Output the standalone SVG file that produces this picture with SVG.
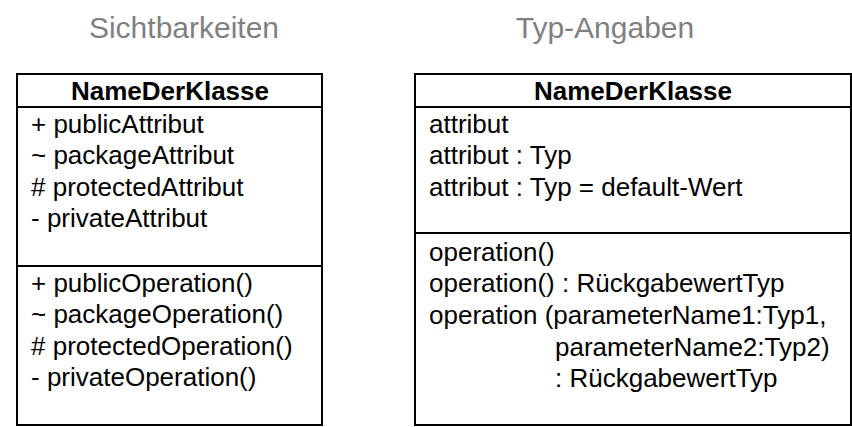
<svg xmlns="http://www.w3.org/2000/svg" width="852" height="427" viewBox="0 0 852 427">
<style>
.box{fill:#fff;stroke:#000;stroke-width:2}
.ln{stroke:#000;stroke-width:2}
.t{font-family:"Liberation Sans",Arial,sans-serif;font-size:26px;fill:#000}
.h{font-family:"Liberation Sans",Arial,sans-serif;font-size:26px;font-weight:bold;fill:#000;text-anchor:middle}
.title{font-family:"Liberation Sans",Arial,sans-serif;font-size:30px;fill:#7f7f7f;text-anchor:middle}
</style>
<rect width="852" height="427" fill="#fff"/>
<text class="title" x="184" y="38">Sichtbarkeiten</text>
<text class="title" x="605" y="38">Typ-Angaben</text>
<g id="sichtbarkeiten">
<rect class="box" x="17" y="74" width="305" height="351"/>
<line class="ln" x1="17" y1="107" x2="322" y2="107"/>
<line class="ln" x1="17" y1="266" x2="322" y2="266"/>
<text class="h" x="170" y="100">NameDerKlasse</text>
<text class="t" x="31" y="133">+ publicAttribut</text>
<text class="t" x="31" y="164">~ packageAttribut</text>
<text class="t" x="31" y="196">#  protectedAttribut</text>
<text class="t" x="31" y="227">- privateAttribut</text>
<text class="t" x="31" y="292">+ publicOperation()</text>
<text class="t" x="31" y="323">~ packageOperation()</text>
<text class="t" x="31" y="355"># protectedOperation()</text>
<text class="t" x="31" y="386">- privateOperation()</text>
</g>
<g id="typangaben">
<rect class="box" x="415" y="74" width="436" height="351"/>
<line class="ln" x1="415" y1="107" x2="851" y2="107"/>
<line class="ln" x1="415" y1="233" x2="851" y2="233"/>
<text class="h" x="633" y="100">NameDerKlasse</text>
<text class="t" x="429" y="133">attribut</text>
<text class="t" x="429" y="164">attribut : Typ</text>
<text class="t" x="429" y="196">attribut : Typ = default-Wert</text>
<text class="t" x="429" y="261">operation()</text>
<text class="t" x="429" y="292">operation() : RückgabewertTyp</text>
<text class="t" x="429" y="324">operation (parameterName1:Typ1,</text>
<text class="t" x="555" y="356">parameterName2:Typ2)</text>
<text class="t" x="555" y="387">: RückgabewertTyp</text>
</g>
<g id="connectors"></g>
</svg>
